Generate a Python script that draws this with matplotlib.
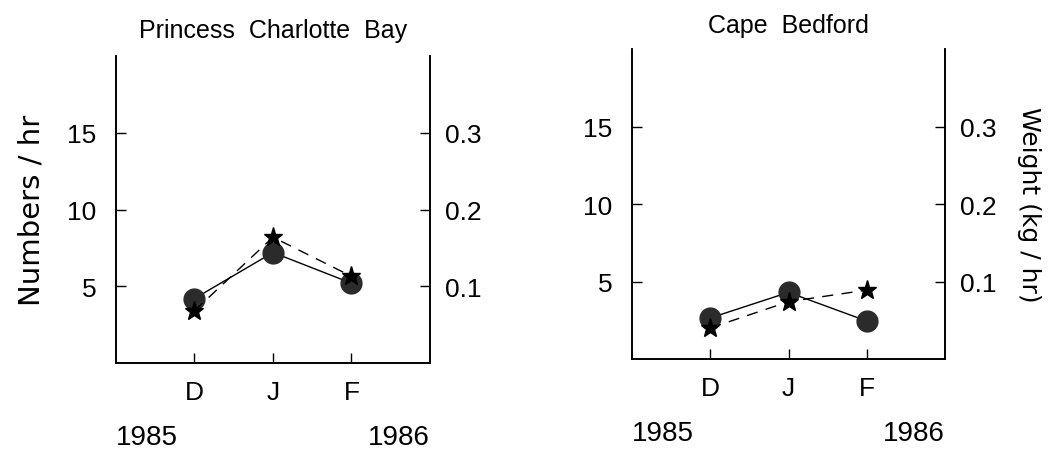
import matplotlib
matplotlib.use('Agg')
import matplotlib.pyplot as plt

months = ['D', 'J', 'F']
sites = ['Princess  Charlotte  Bay', 'Cape  Bedford']
numbers_pcb = [4.2, 7.2, 5.2]        # numbers/hr (circles, solid)
weight_pcb = [0.068, 0.164, 0.113]   # kg/hr (stars, dashed)
numbers_cb = [2.65, 4.3, 2.45]
weight_cb = [0.040, 0.074, 0.089]

plt.rcParams['font.family'] = ['Liberation Sans', 'DejaVu Sans']

fig = plt.figure(figsize=(10.59, 4.52), dpi=100)
boxes = [[0.1095, 0.1947, 0.2965, 0.679], [0.5968, 0.2035, 0.2956, 0.6858]]
data = [(numbers_pcb, weight_pcb), (numbers_cb, weight_cb)]

for i in range(2):
    ax = fig.add_axes(boxes[i])
    ax2 = ax.twinx()
    nums, wts = data[i]
    x = range(len(months))
    ax.plot(x, nums, '-', color='black', lw=1.0, zorder=2)
    ax.plot(x, nums, 'o', color='#2b2b2b', ms=15, zorder=3)
    ax2.plot(x, wts, '--', color='black', lw=1.0, dashes=(8, 6))
    ax2.plot(x, wts, '*', color='black', ms=14)

    ax.set_xlim(-1, 3)
    ax.set_ylim(0, 20)
    ax2.set_ylim(0, 0.4)
    ax.set_xticks(list(x))
    ax.set_xticklabels(months)
    ax.set_yticks([5, 10, 15])
    ax2.set_yticks([0.1, 0.2, 0.3])
    ax2.set_yticklabels(['0.1', '0.2', '0.3'])
    ax.tick_params(axis='both', direction='in', length=7, width=1.0, labelsize=19)
    ax.tick_params(axis='y', pad=14)
    ax.tick_params(axis='x', pad=12)
    ax2.tick_params(axis='y', direction='in', length=7, width=1.0, labelsize=19, pad=11)
    for a in (ax, ax2):
        a.spines['top'].set_visible(False)
        for s in ('left', 'right', 'bottom'):
            a.spines[s].set_linewidth(1.2)

    ax.set_title(sites[i], fontsize=18, pad=14 if i == 0 else 12)
    ax.text(0, -0.24, '1985', transform=ax.transAxes, ha='left', va='center', fontsize=20)
    ax.text(1, -0.24, '1986', transform=ax.transAxes, ha='right', va='center', fontsize=20)

    if i == 0:
        ax.set_ylabel('Numbers / hr', fontsize=21, labelpad=16, family='DejaVu Sans')
    else:
        ax2.set_ylabel('Weight (kg / hr)', fontsize=18, rotation=-90, labelpad=32,
                       family='DejaVu Sans')

fig.savefig('out.png', dpi=100)
